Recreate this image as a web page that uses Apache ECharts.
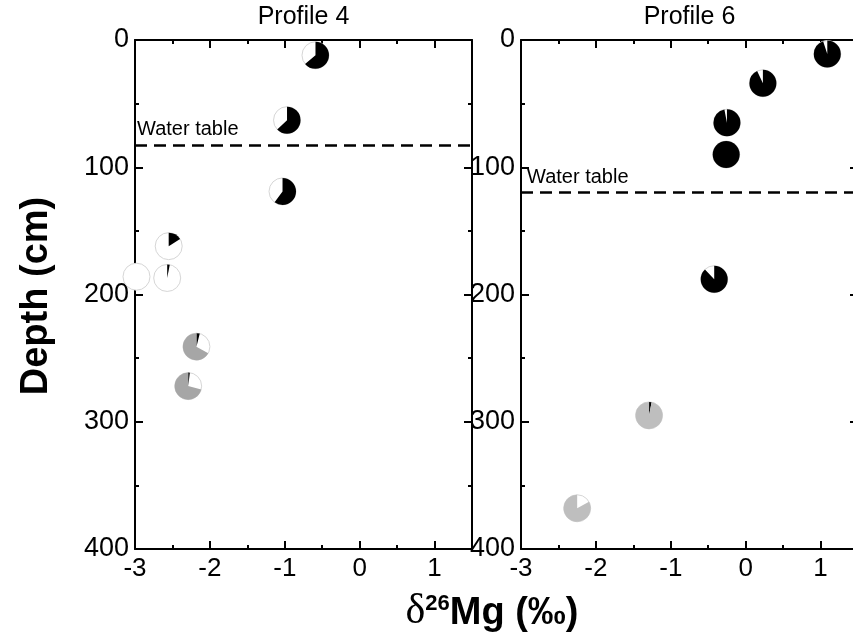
<!DOCTYPE html>
<html>
<head>
<meta charset="utf-8">
<script src="https://cdn.jsdelivr.net/npm/echarts@6/dist/echarts.min.js"></script>
<style>
  html, body { margin: 0; padding: 0; background: #fff; }
  #chart { width: 853px; height: 643px; }
</style>
</head>
<body>
<div id="chart"></div>
<script>
const panelTitles = ["Profile 4", "Profile 6"];
const xMin = -3, xMax = 1.5;
const depthMin = 0, depthMax = 400;
const waterTable = [82.5, 120];

// Profile 4: delta26Mg (permil), depth (cm), pie fractions (black, white, gray)
const delta4 = [-0.59, -0.97, -1.03, -2.55, -2.57, -2.98, -2.18, -2.29];
const depth4 = [12, 63, 119, 162, 187, 186, 241, 272];
const black4 = [0.64, 0.63, 0.60, 0.16, 0.03, 0, 0.04, 0.02];
const white4 = [0.36, 0.37, 0.40, 0.84, 0.97, 1, 0.29, 0.27];
const gray4 = [0, 0, 0, 0, 0, 0, 0.67, 0.71];

// Profile 6
const delta6 = [1.09, 0.23, -0.25, -0.26, -0.42, -1.29, -2.25];
const depth6 = [11, 34, 65, 90, 188, 295, 368];
const black6 = [0.95, 0.93, 0.97, 1, 0.88, 0.03, 0];
const white6 = [0.05, 0.07, 0.03, 0, 0.12, 0, 0.17];
const gray6 = [0, 0, 0, 0, 0, 0.97, 0.83];

const grayColors = ["#a6a6a6", "#bebebe"];
const FONT = "Arial, 'Liberation Sans', sans-serif";

const chart = echarts.init(document.getElementById("chart"));

const grids = [
  { left: 135, top: 40, width: 337, height: 509, outerBoundsMode: "none" },
  { left: 521, top: 40, width: 337, height: 509, outerBoundsMode: "none" },
];

const black = "#000";
const xAxes = [];
const yAxes = [];
grids.forEach((g, i) => {
  ["bottom", "top"].forEach((pos) => {
    xAxes.push({
      gridIndex: i, type: "value", position: pos,
      min: xMin, max: xMax, interval: 1,
      axisLine: { show: true, onZero: false, lineStyle: { color: black, width: 2 } },
      axisTick: { show: true, inside: true, length: 8, lineStyle: { color: black, width: 2 } },
      axisLabel: {
        show: pos === "bottom", showMaxLabel: false, margin: 7,
        fontSize: 26, color: black, fontFamily: FONT,
      },
      splitLine: { show: false },
    });
    // minor ticks every 0.5
    xAxes.push({
      gridIndex: i, type: "value", position: pos,
      min: xMin, max: xMax, interval: 0.5,
      axisLine: { show: false, onZero: false },
      axisTick: { show: true, inside: true, length: 4, lineStyle: { color: black, width: 2 } },
      axisLabel: { show: false },
      splitLine: { show: false },
    });
  });
  ["left", "right"].forEach((pos) => {
    yAxes.push({
      gridIndex: i, type: "value", position: pos, inverse: true,
      min: depthMin, max: depthMax, interval: 100,
      axisLine: { show: true, onZero: false, lineStyle: { color: black, width: 2 } },
      axisTick: { show: true, inside: true, length: 8, lineStyle: { color: black, width: 2 } },
      minorTick: { show: true, splitNumber: 2, length: 4, lineStyle: { color: black, width: 2 } },
      axisLabel: {
        show: pos === "left", margin: 6,
        fontSize: 27, color: black, fontFamily: FONT,
      },
      splitLine: { show: false },
    });
  });
});

function pieSeries(i, deltas, depths, blacks, whites, grays) {
  return {
    type: "custom",
    xAxisIndex: 4 * i,
    yAxisIndex: 2 * i,
    clip: false,
    data: deltas.map((d, k) => [d, depths[k], blacks[k], whites[k], grays[k]]),
    renderItem: function (params, api) {
      const p = api.coord([api.value(0), api.value(1)]);
      const r = 13.5;
      const fills = [black, "#fff", grayColors[i]];
      const children = [
        {
          type: "circle",
          shape: { cx: p[0], cy: p[1], r: r },
          style: { fill: "#fff", stroke: "#d6d6d6", lineWidth: 1 },
        },
      ];
      let a = -Math.PI / 2;
      [api.value(2), api.value(3), api.value(4)].forEach((f, k) => {
        if (f <= 0) return;
        const b = a + f * 2 * Math.PI;
        if (k !== 1) {
          children.push({
            type: "sector",
            shape: { cx: p[0], cy: p[1], r0: 0, r: r, startAngle: a, endAngle: b, clockwise: true },
            style: { fill: fills[k] },
          });
        }
        a = b;
      });
      return { type: "group", children: children };
    },
  };
}

function waterSeries(i, labelDx) {
  return {
    type: "line",
    xAxisIndex: 4 * i,
    yAxisIndex: 2 * i,
    data: [],
    markLine: {
      silent: true,
      symbol: "none",
      lineStyle: { color: black, width: 2.5, type: [12, 7] },
      label: {
        show: true, position: "insideStartTop", formatter: "Water table",
        color: black, fontSize: 20, fontFamily: FONT, distance: [labelDx, 5],
      },
      data: [{ yAxis: waterTable[i] }],
    },
  };
}

const option = {
  backgroundColor: "#fff",
  animation: false,
  grid: grids,
  xAxis: xAxes,
  yAxis: yAxes,
  graphic: [
    {
      type: "text", x: 303.5, y: 17,
      style: { text: panelTitles[0], fontSize: 25, fontFamily: FONT, fill: black, align: "center", verticalAlign: "middle" },
    },
    {
      type: "text", x: 689.5, y: 17,
      style: { text: panelTitles[1], fontSize: 25, fontFamily: FONT, fill: black, align: "center", verticalAlign: "middle" },
    },
    {
      type: "text", x: 37, y: 296, rotation: Math.PI / 2,
      style: {
        text: "Depth (cm)", fontSize: 38, fontWeight: "bold", fontFamily: FONT,
        fill: black, align: "center", verticalAlign: "middle",
      },
    },
    {
      type: "text", x: 492, y: 612,
      style: {
        text: "{d|δ}{s|26}{m|Mg (‰)}",
        align: "center", verticalAlign: "middle",
        rich: {
          d: { fontSize: 42, fontFamily: "'Liberation Serif', 'DejaVu Serif', serif", fill: black, verticalAlign: "bottom" },
          s: { fontSize: 22, fontWeight: "bold", fontFamily: FONT, fill: black, verticalAlign: "bottom", padding: [0, 0, 18, 0] },
          m: { fontSize: 38, fontWeight: "bold", fontFamily: FONT, fill: black, verticalAlign: "bottom" },
        },
      },
    },
  ],
  series: [
    waterSeries(0, 2),
    waterSeries(1, 6),
    pieSeries(0, delta4, depth4, black4, white4, gray4),
    pieSeries(1, delta6, depth6, black6, white6, gray6),
  ],
};

chart.setOption(option);
</script>
</body>
</html>
